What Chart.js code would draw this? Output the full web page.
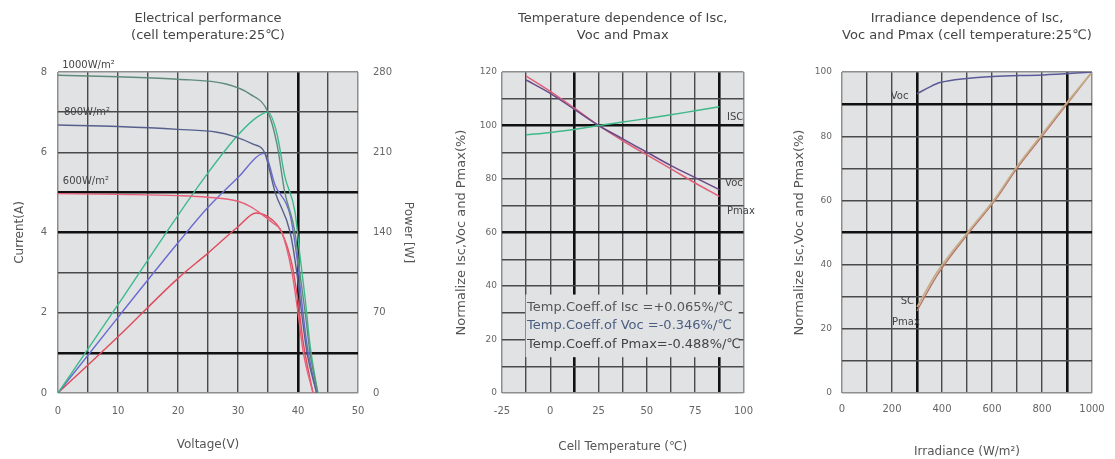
<!DOCTYPE html>
<html>
<head>
<meta charset="utf-8">
<script src="https://cdn.jsdelivr.net/npm/chart.js@4"></script>
<style>
  html, body { margin: 0; padding: 0; background: #fff; }
  .panel { position: absolute; top: 0; }
</style>
</head>
<body>
<div class="panel" style="left:0"><canvas id="perfChart" width="425" height="459"></canvas></div>
<div class="panel" style="left:425px"><canvas id="tempChart" width="340" height="459"></canvas></div>
<div class="panel" style="left:765px"><canvas id="irrChart" width="350" height="459"></canvas></div>
<script>
// --- Electrical performance (I-V and P-V curves) ---
const volt1000 = [0, 10, 20, 28, 32, 35, 36.5, 37.8, 39.5, 40.3, 41.2, 42, 43.3];
const amp1000 = [7.92, 7.88, 7.82, 7.7, 7.45, 7.0, 6.2, 5.0, 4.0, 3.0, 2.0, 1.0, 0];
const volt800 = [0, 10, 20, 26.5, 29.2, 32.5, 34.4, 36.2, 38.7, 39.8, 40.6, 41.5, 43.1];
const amp800 = [6.68, 6.64, 6.57, 6.5, 6.4, 6.2, 6.0, 5.0, 4.0, 3.0, 2.0, 1.0, 0];
const volt600 = [0, 10, 20, 25, 30, 32, 34, 35.7, 37.3, 39, 40, 40.9, 42.5];
const amp600 = [4.97, 4.95, 4.92, 4.88, 4.78, 4.65, 4.45, 4.25, 4.0, 3.0, 2.0, 1.0, 0];

const pVolt1000 = [0, 10, 20, 25, 30, 33, 35, 36.5, 37.8, 39.5, 40.3, 41.2, 42, 43.3];
const watt1000 = [0, 77, 155, 192, 225, 240, 245, 226, 189, 158, 121, 82, 42, 0];
const pVolt800 = [0, 10, 20, 25, 30, 34.4, 36.2, 38.7, 39.8, 40.6, 41.5, 43.1];
const watt800 = [0, 66, 131, 162, 188, 209, 181, 155, 119, 81, 42, 0];
const pVolt600 = [0, 10, 20, 25, 30, 33, 35.7, 37.3, 39, 40, 40.9, 42.5];
const watt600 = [0, 49, 100, 122, 145, 157, 151, 140, 112, 80, 43, 0];

// --- Temperature dependence ---
const cellTemp = [-12.5, 0, 12.5, 25, 37.5, 50, 62.5, 75, 87.5];
const iscByTemp = [96.5, 97.4, 98.5, 100, 101.3, 102.6, 104, 105.5, 107];
const vocByTemp = [117, 112, 106, 100, 95, 90, 85, 80.5, 76];
const pmaxByTemp = [118.5, 112.8, 106.5, 100, 94.3, 89, 83.8, 78.5, 73.5];
const coeffLines = [
    'Temp.Coeff.of Isc =+0.065%/℃',
    'Temp.Coeff.of Voc =-0.346%/℃',
    'Temp.Coeff.of Pmax=-0.488%/℃'
];

// --- Irradiance dependence ---
const irrVoc = [300, 350, 392, 499, 605, 805, 1000];
const vocByIrr = [93.2, 95.3, 96.7, 98.0, 98.6, 99.1, 100];
const irrLin = [300, 380, 500, 612, 700, 800, 900, 1000];
const iscByIrr = [26.8, 37.6, 49.8, 60.6, 70.6, 80.6, 90.5, 100];
const pmaxByIrr = [25.6, 36.6, 49.2, 60, 70, 80, 90, 100];

const FONT = 'DejaVu Sans';
Chart.defaults.font.family = FONT;
Chart.defaults.color = '#666';

const pts = (xs, ys) => xs.map((x, i) => ({x: x, y: ys[i]}));

const plotBg = {
    id: 'plotBg',
    beforeDraw(chart) {
        const {ctx, chartArea: a} = chart;
        ctx.save();
        ctx.fillStyle = '#e1e2e4';
        ctx.fillRect(a.left, a.top, a.right - a.left, a.bottom - a.top);
        ctx.restore();
    }
};
Chart.register(plotBg);

// text labels placed at data coordinates, optional filled boxes under them
function notes(items, boxes, yId) {
    return {
        id: 'notes',
        afterDatasetsDraw(chart) {
            const ctx = chart.ctx;
            const xs = chart.scales.x, ys = chart.scales[yId || 'y'];
            ctx.save();
            (boxes || []).forEach(b => {
                const x0 = xs.getPixelForValue(b.x0), x1 = xs.getPixelForValue(b.x1);
                const y0 = ys.getPixelForValue(b.y0), y1 = ys.getPixelForValue(b.y1);
                ctx.fillStyle = b.color;
                ctx.fillRect(x0, y0, x1 - x0, y1 - y0);
            });
            items.forEach(n => {
                ctx.font = (n.size || 10) + 'px "' + FONT + '"';
                ctx.fillStyle = n.color || '#444';
                ctx.textAlign = 'left';
                ctx.textBaseline = 'middle';
                ctx.fillText(n.text, xs.getPixelForValue(n.x), ys.getPixelForValue(n.y));
            });
            ctx.restore();
        }
    };
}

function grid(thick) {
    const isEdge = c => c.index === 0 || c.index === c.scale.ticks.length - 1;
    const isThick = c => thick.some(t => Math.abs(t - c.tick.value) < 1e-6);
    return {
        drawTicks: false,
        color: c => isEdge(c) ? '#8e8e8e' : isThick(c) ? '#111' : '#4a4a4a',
        lineWidth: c => isEdge(c) ? 1.5 : isThick(c) ? 2.6 : 1.4
    };
}

function line(data, color, yAxisID, width) {
    return {
        data: data,
        borderColor: color,
        borderWidth: width || 1.4,
        pointRadius: 0,
        showLine: true,
        fill: false,
        cubicInterpolationMode: 'monotone',
        yAxisID: yAxisID || 'y'
    };
}

function titleOpts(lines) {
    return {
        display: true,
        text: lines,
        fullSize: false,
        color: '#444',
        font: {size: 13, weight: 'normal', lineHeight: 1.3},
        padding: {top: 10, bottom: 28.2}
    };
}

const baseOpts = {
    responsive: false,
    animation: false,
    devicePixelRatio: 1,
    events: []
};

// Chart 1
new Chart(document.getElementById('perfChart'), {
    type: 'scatter',
    data: {
        datasets: [
            line(pts(volt1000, amp1000), '#5f8c7a'),
            line(pts(volt800, amp800), '#56608c'),
            line(pts(volt600, amp600), '#e8607a'),
            line(pts(pVolt1000, watt1000), '#3dba8c', 'yP'),
            line(pts(pVolt800, watt800), '#6a6ad0', 'yP'),
            line(pts(pVolt600, watt600), '#e04a5a', 'yP')
        ]
    },
    options: Object.assign({}, baseOpts, {
        plugins: {
            legend: {display: false},
            tooltip: {enabled: false},
            title: titleOpts(['Electrical performance', '(cell temperature:25℃)'])
        },
        scales: {
            x: {
                type: 'linear', min: 0, max: 50,
                grid: grid([40]),
                border: {display: false},
                ticks: {stepSize: 5, autoSkip: false, maxRotation: 0, padding: 12, font: {size: 10},
                    callback: v => v % 10 === 0 ? v : ''},
                title: {display: true, text: 'Voltage(V)', color: '#555', font: {size: 12}, padding: {bottom: 7}},
                afterFit: s => { s.height = 66; }
            },
            y: {
                type: 'linear', position: 'left', min: 0, max: 8,
                grid: grid([1, 4, 5]),
                border: {display: false},
                ticks: {stepSize: 1, autoSkip: false, padding: 11, font: {size: 10},
                    callback: v => v % 2 === 0 ? v : ''},
                title: {display: true, text: 'Current(A)', color: '#555', font: {size: 12}, padding: {top: 12.8}},
                afterFit: s => { s.width = 58; }
            },
            yP: {
                type: 'linear', position: 'right', min: 0, max: 280,
                grid: {display: false},
                border: {display: false},
                ticks: {stepSize: 70, padding: 7, font: {size: 10}},
                title: {display: true, text: 'Power [W]', color: '#555', font: {size: 12}, padding: {top: 9.8}},
                afterFit: s => { s.width = 67; }
            }
        }
    }),
    plugins: [notes([
        {text: '1000W/m²', x: 0.7, y: 8.17},
        {text: '800W/m²', x: 1, y: 7.0},
        {text: '600W/m²', x: 0.8, y: 5.27}
    ])]
});

// Chart 2
new Chart(document.getElementById('tempChart'), {
    type: 'scatter',
    data: {
        datasets: [
            line(pts(cellTemp, iscByTemp), '#3fb98a', 'y', 1.5),
            line(pts(cellTemp, vocByTemp), '#6a4a86', 'y', 1.5),
            line(pts(cellTemp, pmaxByTemp), '#e0607a', 'y', 1.5)
        ]
    },
    options: Object.assign({}, baseOpts, {
        layout: {padding: {right: 15}},
        plugins: {
            legend: {display: false},
            tooltip: {enabled: false},
            title: titleOpts(['Temperature dependence of Isc,', 'Voc and Pmax'])
        },
        scales: {
            x: {
                type: 'linear', min: -25, max: 100,
                grid: grid([12.5, 87.5]),
                border: {display: false},
                ticks: {stepSize: 12.5, autoSkip: false, maxRotation: 0, padding: 12, font: {size: 10},
                    callback: v => Math.abs(v % 25) < 1e-6 ? v : ''},
                title: {display: true, text: 'Cell Temperature (℃)', color: '#555', font: {size: 12}, padding: {bottom: 5}},
                afterFit: s => { s.height = 66; }
            },
            y: {
                type: 'linear', min: 0, max: 120,
                grid: grid([100, 60]),
                border: {display: false},
                ticks: {stepSize: 10, autoSkip: false, padding: 5, font: {size: 9},
                    callback: v => v % 20 === 0 ? v : ''},
                title: {display: true, text: 'Normalize Isc,Voc and Pmax(%)', color: '#555', font: {size: 13}, padding: {top: 29}},
                afterFit: s => { s.width = 77; }
            }
        }
    }),
    plugins: [notes([
        {text: 'ISC', x: 91.5, y: 103},
        {text: 'Voc', x: 90.5, y: 78.5},
        {text: 'Pmax', x: 91.5, y: 67.7},
        {text: coeffLines[0], x: -12, y: 32.1, size: 13, color: '#555'},
        {text: coeffLines[1], x: -12, y: 25.1, size: 13, color: '#4b5d80'},
        {text: coeffLines[2], x: -12, y: 17.9, size: 13, color: '#444'}
    ], [
        {x0: -12.8, x1: 97.5, y0: 36.8, y1: 13.4, color: '#e1e2e4'}
    ])]
});

// Chart 3
new Chart(document.getElementById('irrChart'), {
    type: 'scatter',
    data: {
        datasets: [
            line(pts(irrVoc, vocByIrr), '#5a5a96', 'y', 1.5),
            line(pts(irrLin, iscByIrr), '#c6ad84', 'y', 1.6),
            line(pts(irrLin, pmaxByIrr), '#b7766c', 'y', 1.4)
        ]
    },
    options: Object.assign({}, baseOpts, {
        layout: {padding: {right: 23}},
        plugins: {
            legend: {display: false},
            tooltip: {enabled: false},
            title: titleOpts(['Irradiance dependence of Isc,', 'Voc and Pmax (cell temperature:25℃)'])
        },
        scales: {
            x: {
                type: 'linear', min: 0, max: 1000,
                grid: grid([300, 900]),
                border: {display: false},
                ticks: {stepSize: 100, autoSkip: false, maxRotation: 0, padding: 10, font: {size: 10},
                    callback: v => v % 200 === 0 ? v : ''},
                title: {display: true, text: 'Irradiance (W/m²)', color: '#555', font: {size: 12}, padding: {bottom: 0}},
                afterFit: s => { s.height = 66; }
            },
            y: {
                type: 'linear', min: 0, max: 100,
                grid: grid([90, 50]),
                border: {display: false},
                ticks: {stepSize: 10, autoSkip: false, padding: 10, font: {size: 9},
                    callback: v => v % 20 === 0 ? v : ''},
                title: {display: true, text: 'Normalize Isc,Voc and Pmax(%)', color: '#555', font: {size: 13}, padding: {top: 27}},
                afterFit: s => { s.width = 77; }
            }
        }
    }),
    plugins: [notes([
        {text: 'Voc', x: 195, y: 92.5},
        {text: 'SC', x: 235, y: 28.5},
        {text: 'Pmax', x: 200, y: 22}
    ])]
});
</script>
</body>
</html>
